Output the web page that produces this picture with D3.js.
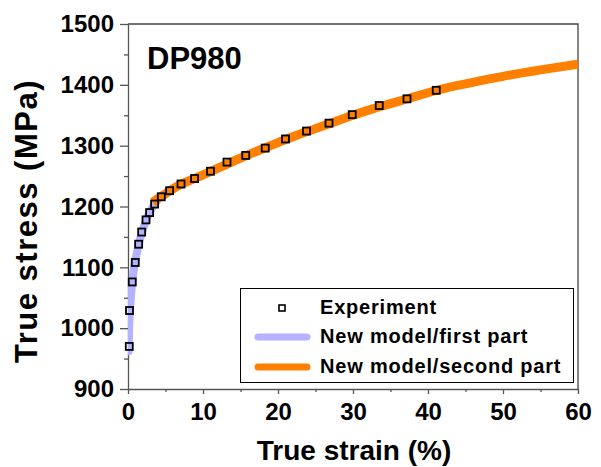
<!DOCTYPE html>
<html lang="en">
<head>
<meta charset="UTF-8">
<script src="https://d3js.org/d3.v7.min.js"></script>
<style>
    body { margin: 0; background: #fff; font-family: Arial, "Liberation Sans", sans-serif; }
    .axis text { font-size: 24px; font-weight: bold; fill: #000; }
    .axis path, .axis line { stroke: #555; stroke-width: 1.3px; }
    .axis-title { font-size: 28px; font-weight: bold; }
    .legend text { font-size: 20px; font-weight: bold; letter-spacing: 0.8px; }
</style>
</head>
<body>
<div id="chart"></div>
<script>
    // experiment points: strain (%) / stress (MPa)
    const expStrain = [0.17, 0.2, 0.57, 0.97, 1.42, 1.82, 2.4, 2.88, 3.55, 4.44, 5.55, 7.07, 8.88, 11.0, 13.2,
                       15.7, 18.3, 21.0, 23.8, 26.8, 29.9, 33.5, 37.2, 41.1];
    const expStress = [970, 1029, 1076, 1108, 1138, 1158, 1178, 1190, 1204, 1216, 1226, 1237, 1246, 1258, 1273,
                       1284, 1296, 1311, 1324, 1337, 1351, 1366, 1377, 1391];

    // model, first part
    const firstStrain = [0.08, 0.15, 0.3, 0.5, 0.8, 1.2, 1.6, 2.0, 2.5, 3.0, 3.5, 3.8];
    const firstStress = [962, 1000, 1035, 1068, 1098, 1125, 1146, 1163, 1180, 1193, 1203, 1208];

    // model, second part
    const secondStrain = [3.3, 4, 5, 6, 7, 8.5, 10, 12, 14, 16, 18, 20, 22.5, 25, 27.5, 30, 32.5, 35, 37.5, 40,
                          42.5, 45, 47.5, 50, 55, 60];
    const secondStress = [1207, 1213, 1221, 1229, 1236, 1244, 1252, 1263, 1274, 1285, 1295, 1305, 1317, 1328,
                          1339, 1350, 1360, 1369, 1378, 1387, 1395, 1401.5, 1408, 1414, 1424.5, 1434];

    const xTicks = [0, 10, 20, 30, 40, 50, 60];
    const yTicks = [900, 1000, 1100, 1200, 1300, 1400, 1500];
    const legendLabels = ["Experiment", "New model/first part", "New model/second part"];

    const W = 601, H = 467;
    const margin = {top: 24, right: 23, bottom: 78, left: 128};
    const width = W - margin.left - margin.right;
    const height = H - margin.top - margin.bottom;

    const svg = d3.select("#chart").append("svg")
        .attr("width", W)
        .attr("height", H);
    const g = svg.append("g")
        .attr("transform", `translate(${margin.left},${margin.top})`);

    const x = d3.scaleLinear().domain([0, 60]).range([0, width]);
    const y = d3.scaleLinear().domain([900, 1500]).range([height, 0]);

    g.append("clipPath").attr("id", "clip")
        .append("rect").attr("x", 0).attr("y", -10).attr("width", width).attr("height", height + 10);

    // frame (top + right)
    g.append("path")
        .attr("d", `M0,0H${width}V${height}`)
        .attr("fill", "none")
        .attr("stroke", "#444")
        .attr("stroke-width", 1.3);

    // minor ticks
    g.append("g").attr("class", "axis")
        .attr("transform", `translate(0,${height})`)
        .call(d3.axisBottom(x).tickValues(d3.range(5, 60, 10)).tickSize(3).tickFormat(""))
        .select(".domain").remove();
    g.append("g").attr("class", "axis")
        .call(d3.axisLeft(y).tickValues(d3.range(950, 1500, 100)).tickSize(4).tickFormat(""))
        .select(".domain").remove();

    g.append("g").attr("class", "axis")
        .attr("transform", `translate(0,${height})`)
        .call(d3.axisBottom(x).tickValues(xTicks).tickSize(5).tickPadding(9).tickSizeOuter(0)
            .tickFormat(d3.format("d")));
    g.append("g").attr("class", "axis")
        .call(d3.axisLeft(y).tickValues(yTicks).tickSize(8).tickPadding(6).tickSizeOuter(0)
            .tickFormat(d3.format("d")));

    const line = d3.line()
        .x(d => x(d[0]))
        .y(d => y(d[1]))
        .curve(d3.curveMonotoneX);

    const firstData = firstStrain.map((s, i) => [s, firstStress[i]]);
    const secondData = secondStrain.map((s, i) => [s, secondStress[i]]);
    const expData = expStrain.map((s, i) => [s, expStress[i]]);

    const curves = g.append("g").attr("clip-path", "url(#clip)");
    curves.append("path")
        .datum(firstData)
        .attr("d", line)
        .attr("fill", "none")
        .attr("stroke", "#b3b3ff")
        .attr("stroke-width", 8)
        .attr("stroke-linecap", "round");
    curves.append("path")
        .datum(secondData)
        .attr("d", line)
        .attr("fill", "none")
        .attr("stroke", "#ff8000")
        .attr("stroke-width", 9);

    const sq = 7;
    g.selectAll(".pt")
        .data(expData)
        .enter()
        .append("rect")
        .attr("class", "pt")
        .attr("x", d => x(d[0]) - sq / 2)
        .attr("y", d => y(d[1]) - sq / 2)
        .attr("width", sq)
        .attr("height", sq)
        .attr("fill", "none")
        .attr("stroke", "#000")
        .attr("stroke-width", 1.8);

    // DP980 label
    g.append("text")
        .attr("x", 19)
        .attr("y", 45)
        .attr("font-size", 31)
        .attr("font-weight", "bold")
        .text("DP980");

    // legend
    const legend = svg.append("g").attr("class", "legend");
    legend.append("rect")
        .attr("x", 240.5).attr("y", 288.5)
        .attr("width", 333).attr("height", 94)
        .attr("fill", "#fff")
        .attr("stroke", "#000")
        .attr("stroke-width", 1);
    const rowY = [308, 337, 367];
    legend.append("rect")
        .attr("x", 279).attr("y", rowY[0] - 3)
        .attr("width", 6).attr("height", 6)
        .attr("fill", "none").attr("stroke", "#000").attr("stroke-width", 1.6);
    [["#b3b3ff", rowY[1]], ["#ff8000", rowY[2]]].forEach(([c, yy]) => {
        legend.append("line")
            .attr("x1", 258).attr("x2", 307)
            .attr("y1", yy).attr("y2", yy)
            .attr("stroke", c)
            .attr("stroke-width", 7)
            .attr("stroke-linecap", "round");
    });
    legendLabels.forEach((t, i) => {
        legend.append("text")
            .attr("x", 320)
            .attr("y", rowY[i] + 6)
            .text(t);
    });

    // axis titles
    svg.append("text")
        .attr("class", "axis-title")
        .attr("text-anchor", "middle")
        .attr("x", 354)
        .attr("y", 460)
        .text("True strain (%)");

    svg.append("text")
        .attr("class", "axis-title")
        .attr("text-anchor", "middle")
        .attr("transform", "rotate(-90)")
        .attr("x", -221)
        .attr("y", 37)
        .style("font-size", "31px")
        .style("letter-spacing", "1.5px")
        .text("True stress (MPa)");
</script>
</body>
</html>
